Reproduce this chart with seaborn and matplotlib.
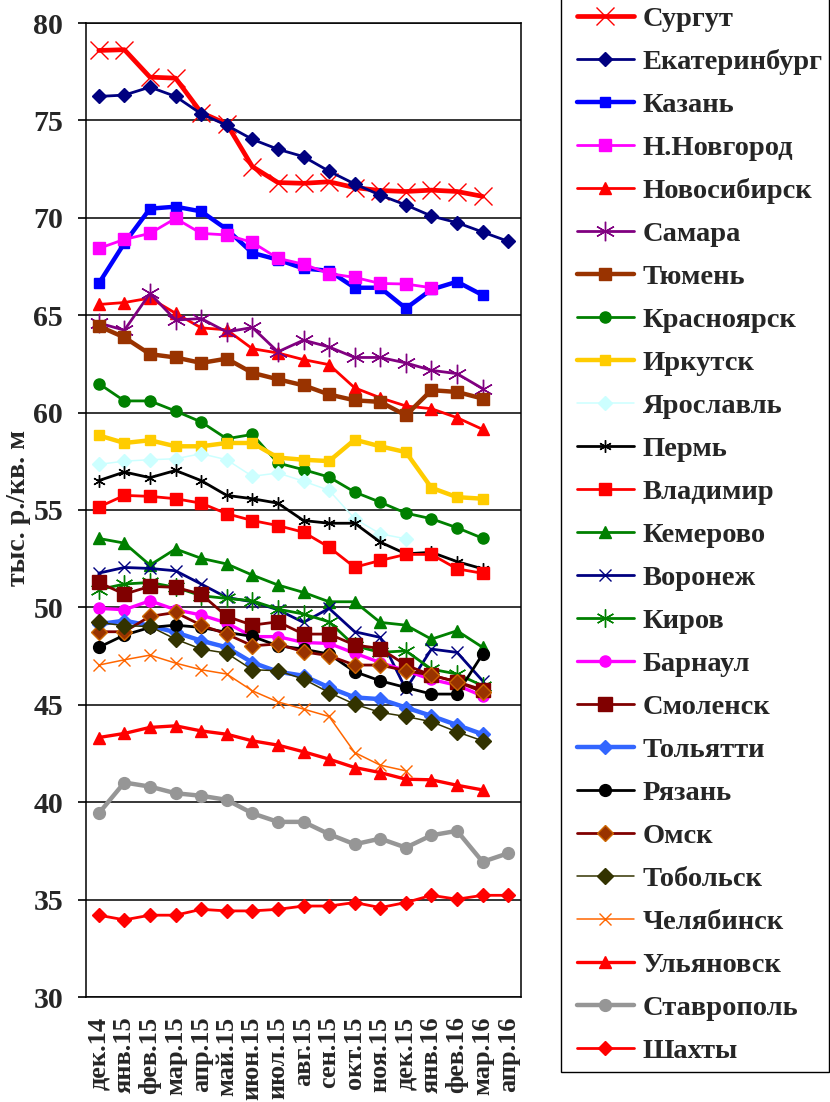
import numpy as np
import pandas as pd
import matplotlib
matplotlib.use("Agg")
import matplotlib.pyplot as plt
from matplotlib.patches import Rectangle
import seaborn as sns

sns.set_theme(style="white")
plt.rcParams['font.family'] = ['Liberation Serif', 'DejaVu Serif']
plt.rcParams['font.weight'] = 'bold'

months = ["дек.14", "янв.15", "фев.15", "мар.15", "апр.15", "май.15", "июн.15",
          "июл.15", "авг.15", "сен.15", "окт.15", "ноя.15", "дек.15", "янв.16",
          "фев.16", "мар.16", "апр.16"]

surgut = [78.59, 78.63, 77.22, 77.17, 75.4, 74.82, 72.63, 71.81, 71.77, 71.85, 71.55, 71.4, 71.35, 71.42, 71.35, 71.1]
ekaterinburg = [76.23, 76.3, 76.71, 76.23, 75.34, 74.75, 74.03, 73.52, 73.14, 72.39, 71.74, 71.16, 70.66, 70.09, 69.75, 69.27, 68.79]
kazan = [66.63, 68.7, 70.47, 70.57, 70.33, 69.41, 68.2, 67.85, 67.4, 67.28, 66.41, 66.41, 65.35, 66.32, 66.72, 66.03]
nnovgorod = [68.43, 68.89, 69.2, 69.97, 69.2, 69.12, 68.74, 67.92, 67.62, 67.14, 66.94, 66.63, 66.6, 66.41]
novosibirsk = [65.55, 65.65, 65.88, 65.1, 64.35, 64.25, 63.28, 63.06, 62.72, 62.46, 61.27, 60.76, 60.34, 60.2, 59.74, 59.14]
samara = [64.6, 64.23, 66.12, 64.75, 64.83, 64.14, 64.37, 63.12, 63.72, 63.37, 62.83, 62.83, 62.55, 62.17, 62.0, 61.23]
tyumen = [64.44, 63.86, 63.0, 62.83, 62.55, 62.77, 62.04, 61.71, 61.4, 60.93, 60.63, 60.55, 59.86, 61.15, 61.06, 60.72]
krasnoyarsk = [61.49, 60.6, 60.6, 60.08, 59.52, 58.66, 58.88, 57.41, 57.07, 56.69, 55.92, 55.4, 54.84, 54.55, 54.09, 53.55]
irkutsk = [58.83, 58.44, 58.58, 58.27, 58.27, 58.44, 58.44, 57.69, 57.58, 57.51, 58.61, 58.27, 57.97, 56.14, 55.66, 55.58]
yaroslavl = [57.34, 57.51, 57.58, 57.63, 57.89, 57.58, 56.73, 56.9, 56.48, 56.01, 54.55, 53.78, 53.52]
perm = [56.51, 56.95, 56.66, 57.03, 56.51, 55.75, 55.58, 55.35, 54.46, 54.32, 54.32, 53.35, 52.75, 52.83, 52.35, 51.98]
vladimir = [55.15, 55.75, 55.7, 55.58, 55.35, 54.81, 54.46, 54.2, 53.86, 53.09, 52.06, 52.41, 52.72, 52.72, 51.98, 51.75]
kemerovo = [53.54, 53.3, 52.17, 53.0, 52.52, 52.23, 51.66, 51.15, 50.77, 50.29, 50.29, 49.23, 49.09, 48.37, 48.8, 47.95]
voronezh = [51.76, 52.05, 52.0, 51.88, 51.2, 50.51, 50.29, 49.88, 49.23, 49.95, 48.75, 48.46, 45.8, 47.86, 47.69, 46.23]
kirov = [50.91, 51.2, 51.28, 51.03, 50.6, 50.46, 50.34, 49.91, 49.66, 49.26, 48.03, 47.69, 47.77, 46.83, 46.58, 45.98]
barnaul = [49.95, 49.88, 50.34, 49.88, 49.61, 49.2, 48.5, 48.5, 48.2, 48.15, 47.65, 47.17, 46.75, 46.3, 46.0, 45.45]
smolensk = [51.28, 50.68, 51.08, 51.03, 50.68, 49.54, 49.09, 49.26, 48.63, 48.63, 48.07, 47.89, 47.04, 46.52, 46.18, 45.77]
tolyatti = [49.14, 49.32, 49.06, 48.72, 48.29, 47.95, 47.17, 46.7, 46.49, 45.89, 45.38, 45.29, 44.86, 44.43, 43.96, 43.49]
ryazan = [47.95, 48.58, 48.97, 49.09, 48.97, 48.72, 48.51, 48.03, 47.86, 47.6, 46.7, 46.23, 45.89, 45.55, 45.55, 47.6]
omsk = [48.75, 48.75, 49.54, 49.74, 49.09, 48.63, 48.03, 48.12, 47.72, 47.52, 47.04, 47.04, 46.75, 46.52, 46.18, 45.67]
tobolsk = [49.23, 49.06, 49.02, 48.37, 47.86, 47.65, 46.8, 46.75, 46.32, 45.63, 45.03, 44.61, 44.4, 44.13, 43.61, 43.15]
chelyabinsk = [47.04, 47.31, 47.55, 47.14, 46.8, 46.58, 45.72, 45.15, 44.78, 44.4, 42.55, 41.9, 41.61]
ulyanovsk = [43.32, 43.53, 43.84, 43.92, 43.66, 43.49, 43.15, 42.93, 42.59, 42.21, 41.78, 41.52, 41.18, 41.15, 40.87, 40.63]
stavropol = [39.43, 41.01, 40.8, 40.46, 40.33, 40.12, 39.43, 38.99, 38.99, 38.36, 37.84, 38.13, 37.67, 38.3, 38.53, 36.94, 37.38]
shakhty = [34.2, 33.96, 34.2, 34.2, 34.5, 34.42, 34.42, 34.5, 34.67, 34.67, 34.85, 34.59, 34.85, 35.22, 35.02, 35.22, 35.22]

cities = ["Сургут", "Екатеринбург", "Казань", "Н.Новгород", "Новосибирск", "Самара",
          "Тюмень", "Красноярск", "Иркутск", "Ярославль", "Пермь", "Владимир",
          "Кемерово", "Воронеж", "Киров", "Барнаул", "Смоленск", "Тольятти",
          "Рязань", "Омск", "Тобольск", "Челябинск", "Ульяновск", "Ставрополь", "Шахты"]
series = [surgut, ekaterinburg, kazan, nnovgorod, novosibirsk, samara, tyumen,
          krasnoyarsk, irkutsk, yaroslavl, perm, vladimir, kemerovo, voronezh,
          kirov, barnaul, smolensk, tolyatti, ryazan, omsk, tobolsk, chelyabinsk,
          ulyanovsk, stavropol, shakhty]

star6 = (6, 2, 0)
# color, linewidth, marker, markersize, markerfacecolor, markeredgecolor, mew
styles = {
    "Сургут":       ("#FF0000", 3.4, "x", 13, "#FF0000", "#FF0000", 1.0),
    "Екатеринбург": ("#000080", 2.0, "D", 7, "#000080", "#000080", 1.0),
    "Казань":       ("#0000FF", 3.2, "s", 7, "#0000FF", "#0000FF", 1.0),
    "Н.Новгород":   ("#FF00FF", 2.0, "s", 8.5, "#FF00FF", "#FF00FF", 1.0),
    "Новосибирск":  ("#FF0000", 2.0, "^", 9, "#FF0000", "#FF0000", 1.0),
    "Самара":       ("#800080", 2.0, star6, 14, "#800080", "#800080", 1.0),
    "Тюмень":       ("#993300", 3.2, "s", 9, "#993300", "#993300", 1.0),
    "Красноярск":   ("#008000", 2.0, "o", 8, "#008000", "#008000", 1.0),
    "Иркутск":      ("#FFCC00", 3.2, "s", 7, "#FFCC00", "#FFCC00", 1.0),
    "Ярославль":    ("#CCFFFF", 1.1, "D", 7, "#CCFFFF", "#CCFFFF", 1.0),
    "Пермь":        ("#000000", 2.0, star6, 9, "#000000", "#000000", 1.0),
    "Владимир":     ("#FF0000", 2.0, "s", 9, "#FF0000", "#FF0000", 1.0),
    "Кемерово":     ("#008000", 2.0, "^", 9, "#008000", "#008000", 1.0),
    "Воронеж":      ("#000080", 2.0, "x", 8, "#000080", "#000080", 1.0),
    "Киров":        ("#008000", 2.0, star6, 13, "#008000", "#008000", 1.0),
    "Барнаул":      ("#FF00FF", 2.4, "o", 8, "#FF00FF", "#FF00FF", 1.0),
    "Смоленск":     ("#800000", 2.0, "s", 10.5, "#800000", "#800000", 1.0),
    "Тольятти":     ("#3366FF", 3.2, "D", 7.5, "#3366FF", "#3366FF", 1.0),
    "Рязань":       ("#000000", 2.0, "o", 8.5, "#000000", "#000000", 1.0),
    "Омск":         ("#800000", 2.0, "D", 8, "#993300", "#CC6600", 1.0),
    "Тобольск":     ("#333300", 1.1, "D", 8, "#333300", "#333300", 1.0),
    "Челябинск":    ("#FF6600", 1.1, "x", 8, "#FF6600", "#FF6600", 1.0),
    "Ульяновск":    ("#FF0000", 2.4, "^", 9, "#FF0000", "#FF0000", 1.0),
    "Ставрополь":   ("#969696", 3.2, "o", 8.5, "#969696", "#969696", 1.0),
    "Шахты":        ("#FF0000", 2.0, "D", 7.5, "#FF0000", "#FF0000", 1.0),
}

W, H = 830, 1102
fig = plt.figure(figsize=(W / 100, H / 100), dpi=100)
ax = fig.add_axes([86/W, 1 - 997/H, (521 - 86)/W, (997 - 23)/H])

for name, vals in zip(cities, series):
    c, lw, mk, ms, mfc, mec, mew = styles[name]
    df = pd.DataFrame({"x": np.arange(len(vals)), "y": vals})
    sns.lineplot(data=df, x="x", y="y", ax=ax, color=c, linewidth=lw, marker=mk,
                 markersize=ms, markerfacecolor=mfc, markeredgecolor=mec,
                 markeredgewidth=mew, label=name, sort=False, legend=False)

ax.set_xlim(-0.5, len(months) - 0.5)
ax.set_ylim(30, 80)
ax.set_yticks(np.arange(30, 81, 5))
ax.set_xticks(np.arange(len(months)))
ax.set_xticklabels(months, rotation=90, fontsize=19, fontweight='bold')
ax.set_xticks(np.arange(-0.5, len(months), 1.0), minor=True)
ax.tick_params(axis='x', which='major', length=0, pad=14)
ax.tick_params(axis='x', which='minor', length=6, width=1.2, direction='out', color='black')
ax.tick_params(axis='y', which='major', length=6, width=1.2, direction='out',
               labelsize=21.5, pad=10.5, color='black', left=True)
for lbl in ax.get_yticklabels():
    lbl.set_fontweight('bold')
ax.yaxis.grid(True, color='black', linewidth=1.1)
ax.xaxis.grid(False)
for sp in ax.spines.values():
    sp.set_color('black')
    sp.set_linewidth(1.1)
ax.set_xlabel("")
ax.set_ylabel("тыс. р./кв. м", fontsize=20, fontweight='bold')
ax.yaxis.set_label_coords((31 - 86) / 435, 0.502)

# legend frame (top edge lies above the picture, as in the reference)
fig.patches.append(Rectangle((561/W, 1 - 1072/H), (829 - 561)/W, 1072/H + 0.02,
                             transform=fig.transFigure, facecolor='white',
                             edgecolor='black', linewidth=1.0, zorder=0))

handles, labels = ax.get_legend_handles_labels()
leg = fig.legend(handles, labels, loc='center left',
                 bbox_to_anchor=(577/W, 1 - 535/H), borderaxespad=0,
                 frameon=False,
                 prop={'family': 'Liberation Serif', 'weight': 'bold', 'size': 20.5},
                 handlelength=2.0, handletextpad=0.3, labelspacing=0.6,
                 borderpad=0.0)

fig.savefig("out.png", dpi=100)
